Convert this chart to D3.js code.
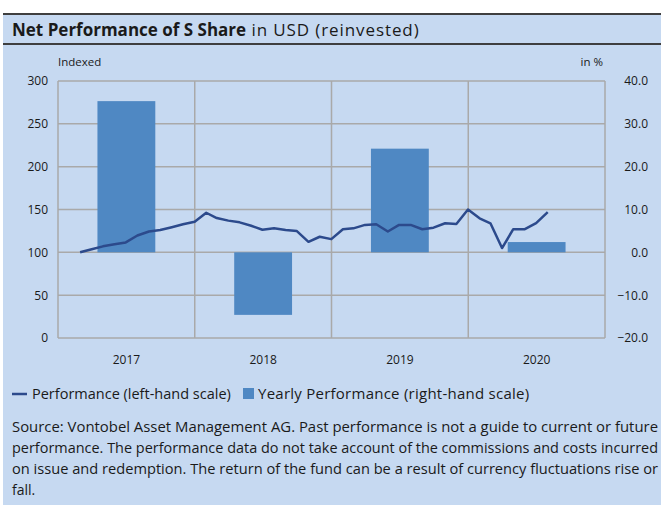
<!DOCTYPE html>
<html>
<head>
<meta charset="utf-8">
<script src="https://cdn.jsdelivr.net/npm/d3@7"></script>
<style>
  body { margin: 0; background: #fff; }
  text { font-family: "Open Sans", sans-serif; fill: #1a1a1a; }
</style>
</head>
<body>
<div id="chart"></div>
<script>
// yearly performance in % (right-hand scale)
let years = ["2017", "2018", "2019", "2020"];
let yearlyPerf = [35.3, -14.6, 24.2, 2.4];

// indexed performance, month ends from Feb 2017 to Jul 2020 (left-hand scale)
let perfStart = [2017, 2]; // first point = end of February 2017
let perfValues = [
  100, 103.5, 107, 109.5, 111.6, 119.6, 124.3, 126, 129.3, 132.7, 135.8,
  146.2, 140, 137, 135, 131, 126.4, 128, 126, 124.8, 112.3, 118.2, 115.4,
  126.9, 128, 132, 132.8, 124.3, 132, 132, 126.9, 128.8, 133.9, 133.1,
  150, 139.7, 133.9, 105, 127, 127, 134, 147
];

let leftTicks = [0, 50, 100, 150, 200, 250, 300];
let rightTicks = [-20, -10, 0, 10, 20, 30, 40];

let sourceLines = [
  "Source: Vontobel Asset Management AG. Past performance is not a guide to current or future",
  "performance. The performance data do not take account of the commissions and costs incurred",
  "on issue and redemption. The return of the fund can be a result of currency fluctuations rise or",
  "fall."
];

let w = 661;
let h = 505;
let plotLeft = 58, plotRight = 605, plotTop = 81, plotBottom = 338;

let bg = "#c6d9f1";
let barColor = "#4f88c3";
let lineColor = "#2c4a8c";
let gridColor = "#a9a9a9";

let svg = d3.select("#chart").append("svg")
  .attr("width", w)
  .attr("height", h);

// background panel and title band
svg.append("rect").attr("x", 3).attr("y", 13).attr("width", w - 3).attr("height", h - 13).attr("fill", bg);
svg.append("line").attr("x1", 3).attr("x2", w).attr("y1", 14).attr("y2", 14).attr("stroke", "#3f3f3f").attr("stroke-width", 2);
svg.append("line").attr("x1", 3).attr("x2", w).attr("y1", 44).attr("y2", 44).attr("stroke", "#3f3f3f").attr("stroke-width", 2);

let title = svg.append("text").attr("x", 12).attr("y", 36).attr("font-size", "17px");
title.append("tspan").attr("font-weight", "bold").text("Net Performance of S Share");
title.append("tspan").attr("letter-spacing", "0.9px").text(" in USD (reinvested)");

// scales
let xTime = d3.scaleTime()
  .domain([new Date(2017, 0, 1), new Date(2021, 0, 1)])
  .range([plotLeft, plotRight]);
let xBand = d3.scaleBand().domain(years).range([plotLeft, plotRight]).paddingInner(0.577).paddingOuter(0.2885);
let xYear = d3.scaleBand().domain(years).range([plotLeft, plotRight]);
let yLeft = d3.scaleLinear().domain([0, 300]).range([plotBottom, plotTop]);
let yRight = d3.scaleLinear().domain([-20, 40]).range([plotBottom, plotTop]);

// gridlines
svg.append("g").selectAll("line").data(leftTicks).join("line")
  .attr("x1", plotLeft).attr("x2", plotRight)
  .attr("y1", d => yLeft(d)).attr("y2", d => yLeft(d))
  .attr("stroke", gridColor).attr("stroke-width", 1.5);

let yearEdges = years.map(d => xYear(d)).concat([plotRight]);
svg.append("g").selectAll("line").data(yearEdges).join("line")
  .attr("x1", d => d).attr("x2", d => d)
  .attr("y1", plotTop).attr("y2", plotBottom)
  .attr("stroke", gridColor).attr("stroke-width", 1.5);

// bars
svg.append("g").selectAll("rect").data(years).join("rect")
  .attr("x", d => xBand(d))
  .attr("width", xBand.bandwidth())
  .attr("y", (d, i) => yRight(Math.max(0, yearlyPerf[i])))
  .attr("height", (d, i) => Math.abs(yRight(yearlyPerf[i]) - yRight(0)))
  .attr("fill", barColor);

// performance line
let perfData = perfValues.map((v, i) => ({ date: new Date(perfStart[0], perfStart[1] + i, 1), v: v }));
let line = d3.line().x(d => xTime(d.date)).y(d => yLeft(d.v));
svg.append("path").datum(perfData)
  .attr("d", line)
  .attr("fill", "none")
  .attr("stroke", lineColor)
  .attr("stroke-width", 2.5)
  .attr("stroke-linejoin", "round");

// axes
let yAxisL = svg.append("g").attr("transform", "translate(" + plotLeft + ",0)")
  .call(d3.axisLeft(yLeft).tickValues(leftTicks).tickSize(0).tickPadding(10));
let yAxisR = svg.append("g").attr("transform", "translate(" + plotRight + ",0)")
  .call(d3.axisRight(yRight).tickValues(rightTicks).tickSize(0).tickFormat(d3.format(".1f")).tickPadding(43));
yAxisR.selectAll("text").attr("text-anchor", "end");
let xAxis = svg.append("g").attr("transform", "translate(0," + plotBottom + ")")
  .call(d3.axisBottom(xYear).tickSize(0).tickPadding(17));

[yAxisL, yAxisR, xAxis].forEach(function(a) {
  a.select(".domain").remove();
  a.selectAll("text").attr("font-size", "12px").attr("fill", "#1a1a1a").attr("font-family", "'Open Sans', sans-serif");
});

svg.append("text").text("Indexed").attr("x", 58).attr("y", 66).attr("font-size", "11.5px");
svg.append("text").text("in %").attr("x", 603).attr("y", 66).attr("font-size", "11.5px").attr("text-anchor", "end");

// legend
svg.append("line").attr("x1", 12).attr("x2", 27).attr("y1", 394).attr("y2", 394).attr("stroke", lineColor).attr("stroke-width", 2.5);
svg.append("text").text("Performance (left-hand scale)").attr("x", 32).attr("y", 399).attr("font-size", "14.5px");
svg.append("rect").attr("x", 243).attr("y", 388).attr("width", 11).attr("height", 11).attr("fill", barColor);
svg.append("text").text("Yearly Performance (right-hand scale)").attr("x", 258).attr("y", 399)
  .attr("font-size", "15px").attr("letter-spacing", "0.25px");

// source note, justified like the original
svg.append("g").selectAll("text").data(sourceLines).join("text")
  .text(d => d)
  .attr("x", 12)
  .attr("y", (d, i) => 432 + i * 21)
  .attr("font-size", "14px")
  .each(function(d, i) {
    if (i < sourceLines.length - 1) {
      d3.select(this).attr("textLength", 646).attr("lengthAdjust", "spacingAndGlyphs");
    }
  });
</script>
</body>
</html>
